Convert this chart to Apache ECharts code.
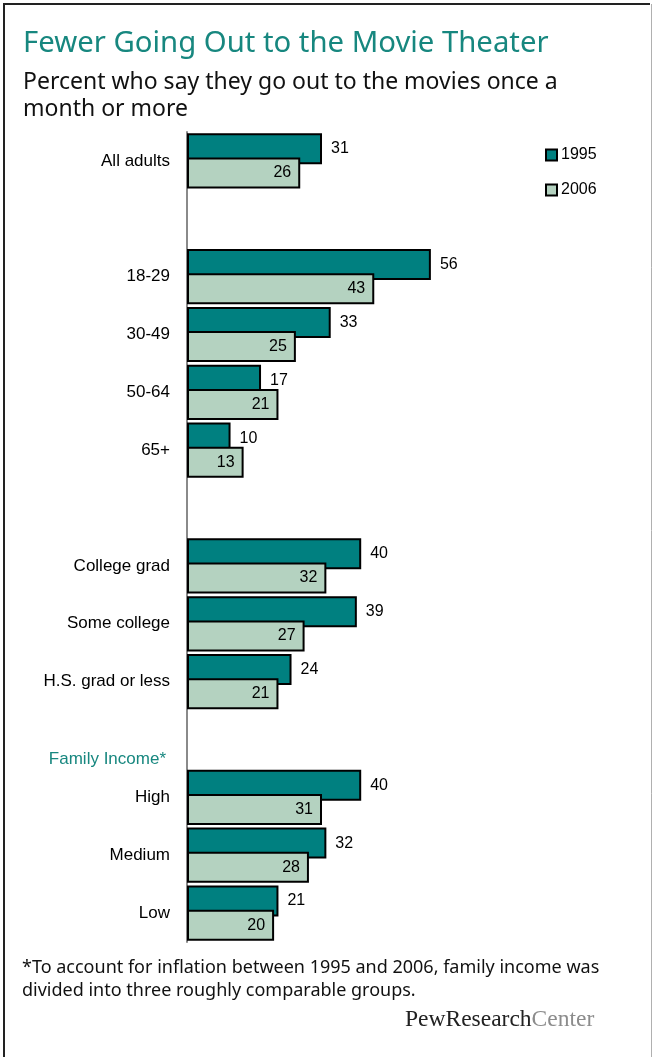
<!DOCTYPE html>
<html>
<head>
<meta charset="utf-8">
<script src="https://cdn.jsdelivr.net/npm/echarts@6/dist/echarts.min.js"></script>
<style>
  html, body { margin: 0; padding: 0; background: #fff; }
  #chart { width: 653px; height: 1057px; }
</style>
</head>
<body>
<div id="chart"></div>
<script>
// Groups, with blank rows separating the sections
const categories = ['All adults', ' ', '18-29', '30-49', '50-64', '65+', '  ',
  'College grad', 'Some college', 'H.S. grad or less', '   ', 'High', 'Medium', 'Low'];
const values1995 = [31, null, 56, 33, 17, 10, null, 40, 39, 24, null, 40, 32, 21];
const values2006 = [26, null, 43, 25, 21, 13, null, 32, 27, 21, null, 31, 28, 20];
const seriesNames = ['1995', '2006'];

const titleText = 'Fewer Going Out to the Movie Theater';
const subtitleText = 'Percent who say they go out to the movies once a\nmonth or more';
const sectionLabel = 'Family Income*';
const footnoteText = '*To account for inflation between 1995 and 2006, family income was\ndivided into three roughly comparable groups.';

const TEAL = '#008080';
const SAGE = '#b4d2c0';
const LABEL_FONT = 'Arial, "Liberation Sans", sans-serif';
const HEAD_FONT = '"Noto Sans", "Open Sans", sans-serif';

const chart = echarts.init(document.getElementById('chart'), null, { renderer: 'canvas' });

chart.setOption({
  backgroundColor: '#fff',
  animation: false,
  title: [
    {
      text: titleText, left: 18, top: 24,
      textStyle: { color: '#17877f', fontSize: 29.3, fontWeight: 'normal', fontFamily: HEAD_FONT }
    },
    {
      text: subtitleText, left: 18, top: 64,
      textStyle: { color: '#111', fontSize: 23, fontWeight: 'normal', fontFamily: HEAD_FONT, lineHeight: 27 }
    }
  ],
  legend: {
    data: seriesNames,
    orient: 'vertical',
    left: 540, top: 142,
    itemWidth: 11, itemHeight: 11, itemGap: 19,
    icon: 'rect',
    textStyle: { fontSize: 16, color: '#000', fontFamily: LABEL_FONT, padding: [0, 0, 0, -1] }
  },
  grid: { left: 187, top: 132, width: 435.5, height: 810, containLabel: false },
  xAxis: {
    type: 'value', min: 0, max: 100, show: false
  },
  yAxis: {
    type: 'category', data: categories, inverse: true,
    axisLine: { show: true, lineStyle: { color: '#8a8a8a', width: 2 } },
    axisTick: { show: false },
    axisLabel: { margin: 17, fontSize: 17, color: '#000', fontFamily: LABEL_FONT }
  },
  series: [
    {
      name: seriesNames[0], type: 'bar', data: values1995,
      barWidth: 31, barGap: '-22%',
      itemStyle: { color: TEAL, borderColor: '#000', borderWidth: 2 },
      label: {
        show: true, position: 'right', distance: 9,
        fontSize: 16, color: '#000', fontFamily: LABEL_FONT
      }
    },
    {
      name: seriesNames[1], type: 'bar', data: values2006,
      barWidth: 31,
      itemStyle: { color: SAGE, borderColor: '#000', borderWidth: 2 },
      label: {
        show: true, position: 'insideRight', distance: 9,
        fontSize: 16, color: '#000', fontFamily: LABEL_FONT
      }
    }
  ],
  graphic: [
    // frame
    { type: 'line', shape: { x1: 4, y1: 4, x2: 4, y2: 1057 }, style: { stroke: '#222', lineWidth: 2 } },
    { type: 'line', shape: { x1: 3, y1: 4, x2: 650, y2: 4 }, style: { stroke: '#222', lineWidth: 2 } },
    { type: 'line', shape: { x1: 651.5, y1: 4, x2: 651.5, y2: 1057 }, style: { stroke: '#b0b0b0', lineWidth: 1 } },
    {
      type: 'text', right: 653 - 166, top: 751,
      style: { text: sectionLabel, fill: '#17877f', fontSize: 17, fontFamily: LABEL_FONT }
    },
    {
      type: 'text', left: 22, top: 956,
      style: { text: footnoteText, fill: '#111', fontSize: 18, fontFamily: HEAD_FONT, lineHeight: 23 }
    },
    {
      type: 'text', left: 405, top: 1008,
      style: {
        text: '{a|PewResearch}{b|Center}',
        rich: {
          a: { fontSize: 23.5, fontFamily: '"Liberation Serif", "DejaVu Serif", serif', fill: '#222' },
          b: { fontSize: 23.5, fontFamily: '"Liberation Serif", "DejaVu Serif", serif', fill: '#8c8c8c' }
        }
      }
    }
  ]
});
</script>
</body>
</html>
